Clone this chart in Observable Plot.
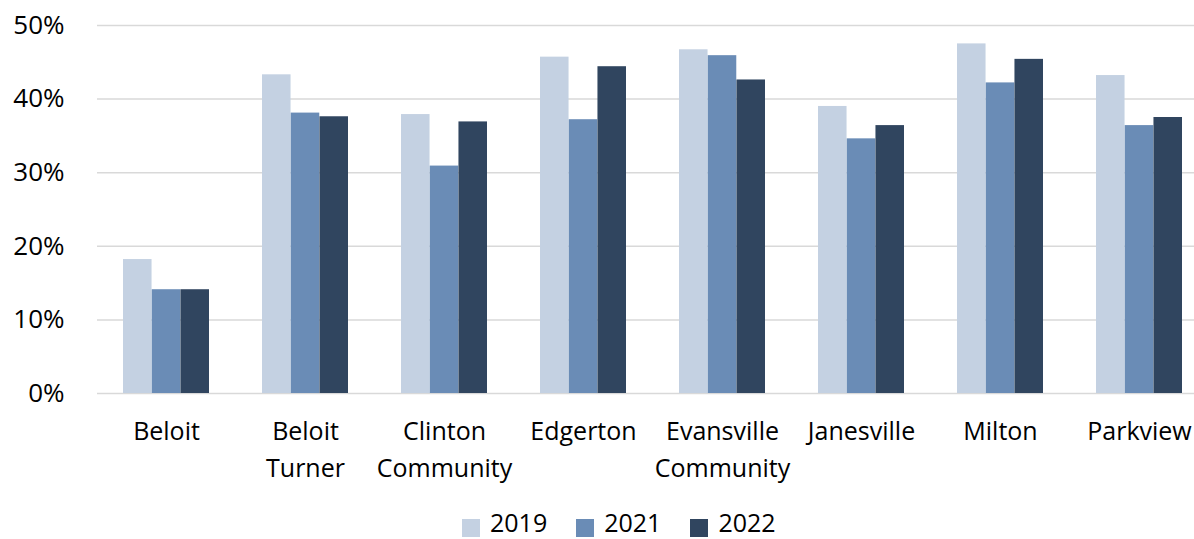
<!DOCTYPE html>
<html>
<head>
<meta charset="utf-8">
<script src="https://cdn.jsdelivr.net/npm/d3@7"></script>
<script src="https://cdn.jsdelivr.net/npm/@observablehq/plot@0.6"></script>
<style>
  html, body { margin: 0; padding: 0; background: #fff; }
  #wrap { position: relative; width: 1194px; height: 539px; font-family: "Open Sans", sans-serif; }
  #legend { position: absolute; left: 462px; top: 507px; display: flex; align-items: center; font-size: 25px; line-height: 28px; color: #000; }
  .item { display: flex; align-items: center; margin-right: 29px; }
  .sw { width: 18px; height: 18px; margin-right: 10px; margin-top: 12px; }
</style>
</head>
<body>
<div id="wrap"><div id="chart"></div><div id="legend"></div></div>
<script>
const districts = ["Beloit", "Beloit\nTurner", "Clinton\nCommunity", "Edgerton", "Evansville\nCommunity", "Janesville", "Milton", "Parkview"];
const years = ["2019", "2021", "2022"];
const colors = ["#C4D1E2", "#6A8CB6", "#30455F"];
const v2019 = [0.182, 0.433, 0.379, 0.457, 0.467, 0.390, 0.475, 0.432];
const v2021 = [0.141, 0.381, 0.309, 0.372, 0.459, 0.346, 0.422, 0.364];
const v2022 = [0.141, 0.376, 0.369, 0.444, 0.426, 0.364, 0.454, 0.375];
const yTicks = [0, 0.1, 0.2, 0.3, 0.4, 0.5];

const series = [v2019, v2021, v2022];
const xRange = [96.5, 1208.5];
const padIn = 0.38, padOut = 0.19;
const bw = d3.scaleBand(districts, xRange).paddingInner(padIn).paddingOuter(padOut).bandwidth();
const sub = bw / years.length;

const barMarks = years.map((y, j) =>
  Plot.barY(districts.map((d, i) => ({district: d, year: y, value: series[j][i]})), {
    x: "district", y: "value", fill: "year",
    insetLeft: j * sub, insetRight: (years.length - 1 - j) * sub
  })
);

const chart = Plot.plot({
  width: 1194,
  height: 500,
  marginLeft: 97,
  marginRight: 0,
  marginTop: 25,
  marginBottom: 107,
  style: {fontFamily: "Open Sans, sans-serif", color: "#000", background: "transparent"},
  x: {domain: districts, range: xRange, paddingInner: padIn, paddingOuter: padOut, label: null},
  y: {domain: [0, 0.5], label: null},
  color: {domain: years, range: colors},
  marks: [
    Plot.ruleY(yTicks, {stroke: "#D9D9D9", strokeWidth: 1.5}),
    ...barMarks,
    Plot.axisY(yTicks, {anchor: "left", tickSize: 0, tickPadding: 33, fontSize: 26, tickFormat: d3.format(".0%"), label: null}),
    Plot.axisX({anchor: "bottom", tickSize: 0, tickPadding: 20, fontSize: 25, lineHeight: 1.48, label: null})
  ]
});
document.getElementById("chart").appendChild(chart);

const legend = document.getElementById("legend");
years.forEach((y, i) => {
  const item = document.createElement("div");
  item.className = "item";
  const sw = document.createElement("div");
  sw.className = "sw";
  sw.style.background = colors[i];
  const t = document.createElement("span");
  t.textContent = y;
  item.appendChild(sw);
  item.appendChild(t);
  legend.appendChild(item);
});
</script>
</body>
</html>
